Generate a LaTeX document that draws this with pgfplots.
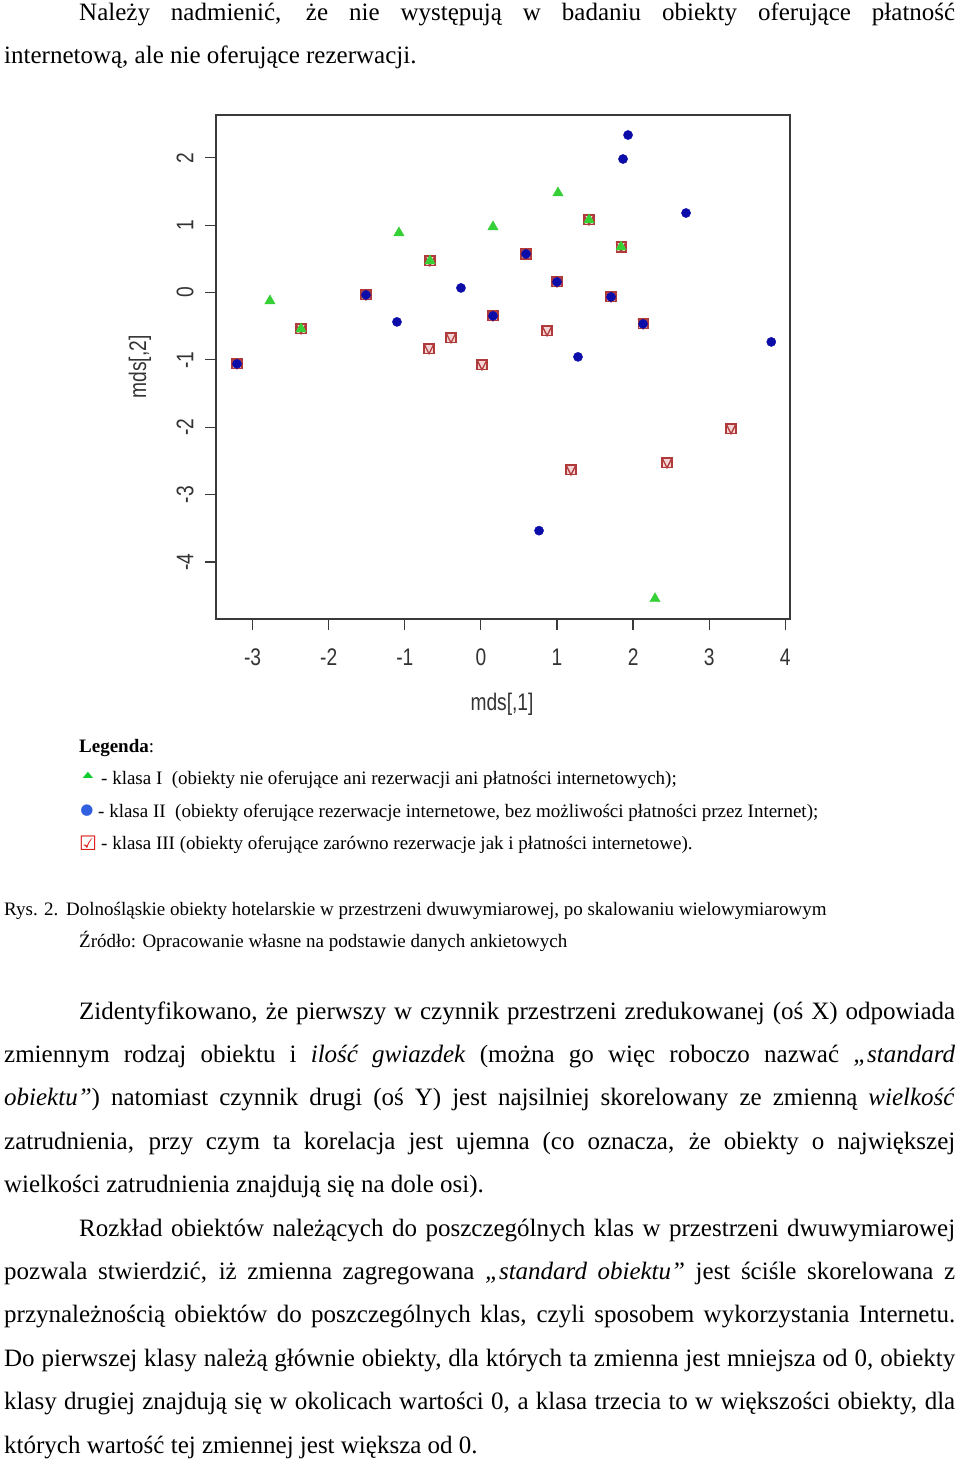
\documentclass[border=0pt]{standalone}
\usepackage{fontspec}
\setmainfont{Liberation Serif}
\setsansfont{Liberation Sans}
\newfontfamily\symfont{DejaVu Sans}
\usepackage{graphicx}
\usepackage{pgfplots}
\pgfplotsset{compat=1.18}

\definecolor{klasaI}{HTML}{35D035}
\definecolor{klasaII}{HTML}{0C0CA8}
\definecolor{klasaIII}{HTML}{B03A3A}
\definecolor{klasaIIIfill}{HTML}{F4D4D4}
\definecolor{axisgrey}{HTML}{3A3A3A}
\definecolor{legtri}{HTML}{10CC30}
\definecolor{legdot}{HTML}{3060E0}
\definecolor{legbox}{HTML}{DD1A1A}

% R pch=14: square with a V inside
\pgfdeclareplotmark{sqv}{%
  \pgfpathrectangle{\pgfqpoint{-\pgfplotmarksize}{-\pgfplotmarksize}}{\pgfqpoint{2\pgfplotmarksize}{2\pgfplotmarksize}}%
  \pgfusepathqfillstroke
  \pgfpathmoveto{\pgfqpoint{-\pgfplotmarksize}{\pgfplotmarksize}}%
  \pgfpathlineto{\pgfqpoint{0pt}{-\pgfplotmarksize}}%
  \pgfpathlineto{\pgfqpoint{\pgfplotmarksize}{\pgfplotmarksize}}%
  \pgfusepathqstroke
}

\newcommand{\body}{\fontsize{25}{30}\selectfont}
\newcommand{\legfont}{\fontsize{19}{23}\selectfont}
\newcommand{\nar}[1]{\scalebox{0.8}[1]{#1}}
% one justified text line: x, baseline, width, text
\newcommand{\jl}[4]{\node[anchor=base west,inner sep=0pt,font=\body] at (#1pt,-#2pt) {\hbox to #3pt{#4}};}
\newcommand{\tl}[3]{\node[anchor=base west,inner sep=0pt,font=\body] at (#1pt,-#2pt) {#3};}

\pgfplotstableread{
x y
-3.205 -1.059
-2.364 -0.540
-1.510 -0.036
-0.669 0.469
-0.682 -0.836
-0.393 -0.673
0.014 -1.074
0.159 -0.347
0.593 0.572
0.869 -0.569
1.000 0.157
1.421 1.077
1.710 -0.065
1.842 0.676
2.131 -0.466
1.184 -2.633
2.446 -2.529
3.287 -2.023
}\klasatrzy

\pgfplotstableread{
x y
-3.205 -1.059
-1.510 -0.036
-1.103 -0.436
-0.262 0.068
0.159 -0.347
0.593 0.572
1.000 0.157
1.276 -0.955
1.710 -0.065
1.868 1.981
1.934 2.337
2.131 -0.466
2.696 1.180
3.816 -0.733
0.764 -3.534
}\klasadwa

\pgfplotstableread{
x y
-2.772 -0.125
-2.364 -0.540
-1.077 0.884
-0.669 0.469
0.159 0.973
1.013 1.477
1.421 1.077
1.842 0.676
2.288 -4.544
}\klasajeden

\begin{document}
\begin{tikzpicture}
\path[use as bounding box] (0,0) rectangle (960pt,-1460pt);

% text above the figure
\jl{79}{20.5}{876}{Należy nadmienić, że nie występują w badaniu obiekty oferujące płatność}
\tl{4}{63.5}{internetową, ale nie oferujące rezerwacji.}

\begin{axis}[
  at={(216pt,-619pt)}, anchor=south west,
  scale only axis, width=574pt, height=504pt,
  xmin=-3.481, xmax=4.062, ymin=-4.845, ymax=2.634,
  axis line style={draw=axisgrey, line width=1.3pt},
  xtick={-3,-2,-1,0,1,2,3,4},
  xticklabels={\nar{-3},\nar{-2},\nar{-1},\nar{0},\nar{1},\nar{2},\nar{3},\nar{4}},
  ytick={-4,-3,-2,-1,0,1,2},
  yticklabels={\nar{-4},\nar{-3},\nar{-2},\nar{-1},\nar{0},\nar{1},\nar{2}},
  tick pos=left, tick align=outside, major tick length=11pt,
  tick style={draw=axisgrey, line width=1.2pt},
  xticklabel style={font=\sffamily\fontsize{24}{24}\selectfont, text=black!80, anchor=center, yshift=-27pt},
  yticklabel style={font=\sffamily\fontsize{24}{24}\selectfont, text=black!80, anchor=center, rotate=90, yshift=20pt},
  clip=false,
]
\addplot[only marks, mark=sqv, mark size=4.9pt, draw=klasaIII, fill=klasaIIIfill, mark options={line width=1.3pt}] table {\klasatrzy};
\addplot[only marks, mark=*, mark size=4.6pt, draw=klasaII, fill=klasaII] table {\klasadwa};
\addplot[only marks, mark=triangle*, mark size=6pt, draw=klasaI, fill=klasaI] table {\klasajeden};
\end{axis}

\node[font=\sffamily\fontsize{24}{24}\selectfont, text=black!80, inner sep=0pt] at (502pt,-704pt) {\nar{mds[,1]}};
\node[font=\sffamily\fontsize{24}{24}\selectfont, text=black!80, inner sep=0pt, rotate=90] at (140pt,-367pt) {\nar{mds[,2]}};

% legend
\node[anchor=base west,inner sep=0pt,font=\legfont] at (79pt,-752pt) {\textbf{Legenda}:};
\node[inner sep=0pt,text=legtri] at (88pt,-775pt) {\symfont\fontsize{14}{14}\selectfont\scalebox{1}[0.6]{▲}};
\node[inner sep=0pt,text=legdot] at (87pt,-811pt) {\symfont\fontsize{15}{15}\selectfont ●};
\node[inner sep=0pt,text=legbox] at (88pt,-843pt) {\symfont\fontsize{20}{20}\selectfont\bfseries ☑};
\node[anchor=base west,inner sep=0pt,font=\legfont] at (101pt,-784pt) {- klasa I\ \ (obiekty nie oferujące ani rezerwacji ani płatności internetowych);};
\node[anchor=base west,inner sep=0pt,font=\legfont] at (98pt,-817pt) {- klasa II\ \ (obiekty oferujące rezerwacje internetowe, bez możliwości płatności przez Internet);};
\node[anchor=base west,inner sep=0pt,font=\legfont] at (101pt,-849pt) {- klasa III (obiekty oferujące zarówno rezerwacje jak i płatności internetowe).};

% caption and source
\node[anchor=base west,inner sep=0pt,font=\legfont] at (4pt,-915pt) {Rys. 2.};
\node[anchor=base west,inner sep=0pt,font=\legfont] at (66pt,-915pt) {Dolnośląskie obiekty hotelarskie w przestrzeni dwuwymiarowej, po skalowaniu wielowymiarowym};
\node[anchor=base west,inner sep=0pt,font=\legfont] at (79pt,-947pt) {Źródło: Opracowanie własne na podstawie danych ankietowych};

% body text below
\jl{79}{1019}{876}{Zidentyfikowano, że pierwszy w czynnik przestrzeni zredukowanej (oś X) odpowiada}
\jl{4}{1062.4}{951}{zmiennym rodzaj obiektu i \textit{ilość gwiazdek} (można go więc roboczo nazwać \textit{„standard}}
\jl{4}{1105.8}{951}{\textit{obiektu”}) natomiast czynnik drugi (oś Y) jest najsilniej skorelowany ze zmienną \textit{wielkość}}
\jl{4}{1149.2}{951}{zatrudnienia, przy czym ta korelacja jest ujemna (co oznacza, że obiekty o największej}
\tl{4}{1192.6}{wielkości zatrudnienia znajdują się na dole osi).}
\jl{79}{1236}{876}{Rozkład obiektów należących do poszczególnych klas w przestrzeni dwuwymiarowej}
\jl{4}{1279.4}{951}{pozwala stwierdzić, iż zmienna zagregowana \textit{„standard obiektu”} jest ściśle skorelowana z}
\jl{4}{1322.8}{951}{przynależnością obiektów do poszczególnych klas, czyli sposobem wykorzystania Internetu.}
\jl{4}{1366.2}{951}{Do pierwszej klasy należą głównie obiekty, dla których ta zmienna jest mniejsza od 0, obiekty}
\jl{4}{1409.6}{951}{klasy drugiej znajdują się w okolicach wartości 0, a klasa trzecia to w większości obiekty, dla}
\tl{4}{1453}{których wartość tej zmiennej jest większa od 0.}
\end{tikzpicture}
\end{document}
